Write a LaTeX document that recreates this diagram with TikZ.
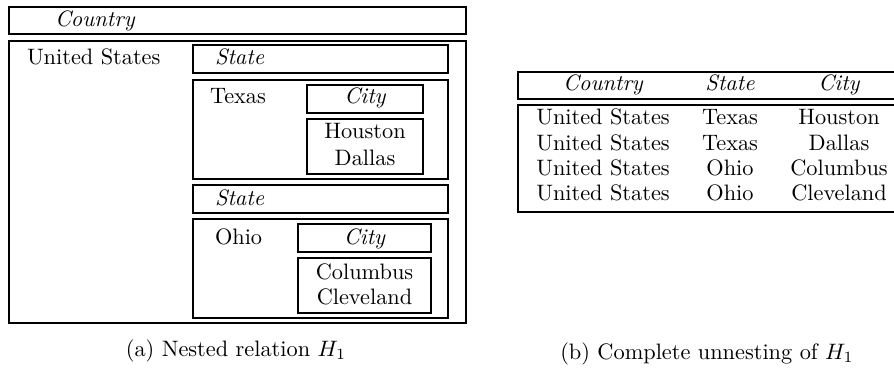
\documentclass[tikz,border=0pt]{standalone}
\usepackage{amsmath}
\usetikzlibrary{positioning}

\begin{document}
\begin{tikzpicture}[x=0.448pt, y=-0.448pt,
    every node/.style={inner sep=0pt, outer sep=0pt},
    box/.style={draw, line width=0.65pt},
    attr/.style={font=\itshape},
    lft/.style={anchor=base west},
    ctr/.style={anchor=base}
    ]
\useasboundingbox (0,0) rectangle (894,383);
% \draw[help lines, step=50] (0,0) grid (894,383);

% (a) nested relation
\draw[box] (9,7) rectangle (466,34);
\node[attr, lft] (country) at (55,27) {Country};
\draw[box] (9,41) rectangle (466,323);
\node[lft] (us) at (27,65) {United States};

\draw[box] (193,45) rectangle (448,73);
\node[attr, lft] (state1) at (215,65) {State};
\draw[box] (193,80) rectangle (448,179);
\node[lft] (texas) at (210,104) {Texas};
\draw[box] (307,85) rectangle (423,113);
\node[attr, ctr] (city1) at (365,104) {City};
\draw[box] (307,119) rectangle (423,174);
\node[ctr] (houston) at (365,139) {Houston};
\node[ctr] (dallas) at (365,166) {Dallas};

\draw[box] (193,185) rectangle (448,213);
\node[attr, lft] (state2) at (215,205) {State};
\draw[box] (193,219) rectangle (448,318);
\node[lft] (ohio) at (215,244) {Ohio};
\draw[box] (298,224) rectangle (431,252);
\node[attr, ctr] (city2) at (364.5,244) {City};
\draw[box] (298,258) rectangle (431,313);
\node[ctr] (columbus) at (364.5,279) {Columbus};
\node[ctr] (cleveland) at (364.5,304) {Cleveland};

\node[ctr] (capa) at (236,356) {(a) Nested relation $H_1$};

% (b) complete unnesting
\begin{scope}
\clip (0,0) rectangle (894,383);
\draw[box] (518,72) rectangle (910,99);
\draw[box] (518,105) rectangle (910,212);
\end{scope}
\node[attr, ctr] (hcountry) at (603,91) {Country};
\node[attr, ctr] (hstate) at (730,91) {State};
\node[attr, ctr] (hcity) at (839,91) {City};
\foreach \y/\s/\c [count=\i] in {125/Texas/Houston, 150.5/Texas/Dallas,
    176/Ohio/Columbus, 201/Ohio/Cleveland}{
  \node[ctr] (row\i-country) at (603,\y) {United States};
  \node[ctr] (row\i-state) at (730,\y) {\s};
  \node[ctr] (row\i-city) at (839,\y) {\c};
}

\node[ctr] (capb) at (707,359) {(b) Complete unnesting of $H_1$};
\end{tikzpicture}
\end{document}
